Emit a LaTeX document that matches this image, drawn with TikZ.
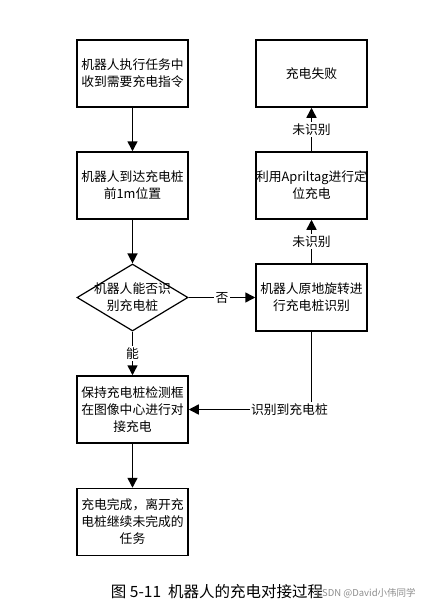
\documentclass[tikz,border=0pt]{standalone}
\usepackage{fontspec}
\setmainfont{Noto Sans CJK SC}
\usetikzlibrary{arrows.meta,shapes.geometric}

\begin{document}
\begin{tikzpicture}[x=1pt,y=-1pt,
   procbox/.style={draw, line width=1.5pt, minimum width=111pt, minimum height=67pt,
                   inner sep=0pt, align=center, font=\fontsize{12.8}{17}\selectfont},
   decision/.style={draw, diamond, line width=1.2pt, minimum width=111pt, minimum height=67pt, inner sep=0pt},
   flow/.style={line width=1.5pt, -{Triangle[width=10pt,length=10pt]}},
   tag/.style={fill=white, inner sep=1.5pt, font=\fontsize{12.8}{15}\selectfont}]
   \useasboundingbox (0,0) rectangle (438,610);
   % left column
   \node[procbox] (start)  at (132.5, 73.5) {机器人执行任务中\\收到需要充电指令};
   \node[procbox] (arrive) at (132.5,185.5) {机器人到达充电桩\\前1m位置};
   \node[decision, label={[align=center, font=\fontsize{12.8}{17}\selectfont]center:机器人能否识\\别充电桩}]
        (check)  at (132.5,297.5) {};
   \node[procbox] (dock)   at (132.5,409.5) {保持充电桩检测框\\在图像中心进行对\\接充电};
   \node[procbox] (finish) at (132.5,522.0) {充电完成，离开充\\电桩继续未完成的\\任务};
   % right column
   \node[procbox] (fail)   at (311.5, 73.5) {充电失败};
   \node[procbox] (april)  at (311.5,185.5) {利用Apriltag进行定\\位充电};
   \node[procbox] (rotate) at (311.5,297.5) {机器人原地旋转进\\行充电桩识别};
   % connectors
   \draw[flow] (start) -- (arrive);
   \draw[flow] (arrive) -- (check);
   \draw[flow] (check) -- node[tag] {否} (rotate);
   \draw[flow] (check) -- node[tag] {能} (dock);
   \draw[flow] (dock) -- (finish);
   \draw[flow] (rotate) -- node[tag] {未识别} (april);
   \draw[flow] (april) -- node[tag] {未识别} (fail);
   \draw[flow] (rotate.south) |- node[tag, pos=0.59] {识别到充电桩} (dock.east);
   % caption
   \node[font=\fontsize{15.5}{18}\selectfont] (caption) at (217,592) {图 5-11\ \ 机器人的充电对接过程};
   \node[font=\fontsize{9.5}{11}\selectfont, text=black!45] (mark) at (366,593) {CSDN @David小伟同学};
\end{tikzpicture}
\end{document}
